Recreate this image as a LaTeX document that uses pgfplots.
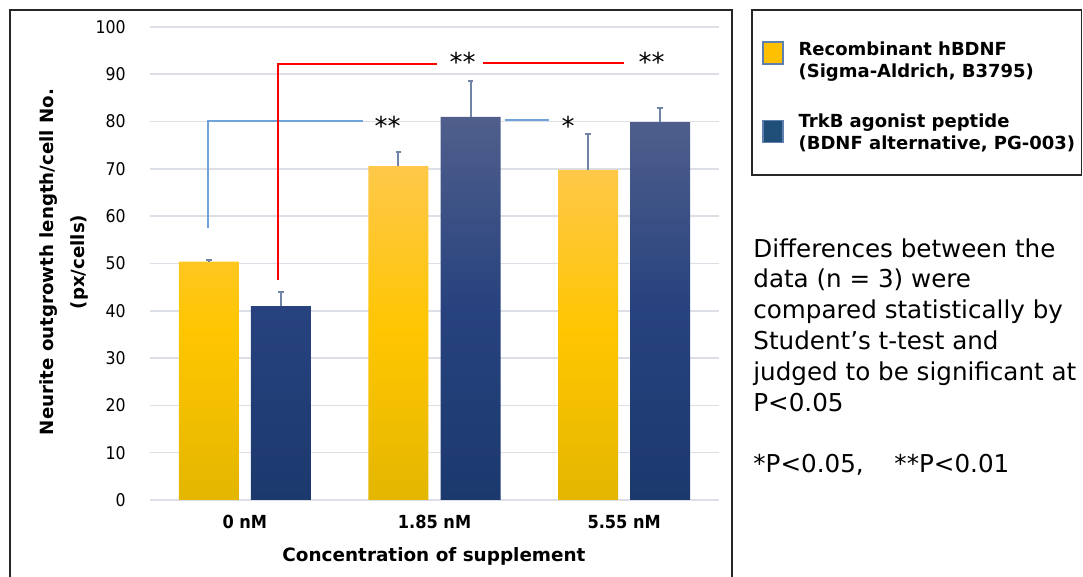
\documentclass[border=0pt]{standalone}
\usepackage{fontspec}
\setmainfont{DejaVu Sans}
\newfontfamily\condfont{DejaVu Sans Condensed}[BoldFont={DejaVu Sans Condensed Bold}]
\usepackage{pgfplots}
\usepackage{pgfplotstable}
\pgfplotsset{compat=1.18}
\definecolor{ytop}{HTML}{FFC84A}
\definecolor{ymid}{HTML}{FFC600}
\definecolor{ybot}{HTML}{E3B600}
\definecolor{btop}{HTML}{505F8C}
\definecolor{bmid}{HTML}{27427E}
\definecolor{bbot}{HTML}{1C396E}
\definecolor{errc}{HTML}{6F84A6}
\definecolor{gridc}{HTML}{DCDFE5}
\definecolor{sigblue}{HTML}{6FA3DA}
\definecolor{legy}{HTML}{FFC000}
\definecolor{legb}{HTML}{1F4E79}
\definecolor{legborder}{HTML}{5E7FB0}
\definecolor{framec}{HTML}{262626}

\pgfplotstableread{
x y e
0 50.4 0.3
1 70.6 3.0
2 69.8 7.6
}\tabA
\pgfplotstableread{
x y e
0 41.0 2.9
1 81.0 7.6
2 79.9 3.0
}\tabB

\begin{document}
\begin{tikzpicture}
\begin{axis}[
  at={(75pt,38.5pt)}, anchor=south west,
  scale only axis, width=284.5pt, height=236.5pt,
  xmin=-0.5, xmax=2.5, ymin=0, ymax=100,
  axis lines=left, axis line style={draw=none},
  major tick length=0pt,
  xtick={0,1,2}, xticklabels={0 nM, 1.85 nM, 5.55 nM},
  ytick={0,10,...,100},
  ymajorgrids, grid style={draw=gridc, line width=0.8pt},
  /pgf/number format/assume math mode=true,
  xticklabel style={font=\condfont\bfseries\fontsize{9}{10}\selectfont, inner sep=0pt, anchor=north, yshift=-7.5pt},
  yticklabel style={font=\condfont\fontsize{8.75}{10}\selectfont, inner sep=0pt, anchor=east, xshift=-12pt},
  legend style={at={(axis description cs:1.0756,0.9705)}, anchor=north west, draw=none, fill=none, inner sep=0pt,
    font=\bfseries\fontsize{9}{11}\selectfont, cells={align=left, anchor=west}, row sep=17pt, column sep=0pt,
    nodes={inner sep=0pt}},
]
\addplot[ybar, bar width=0.316, bar shift=-0.19, draw=none, top color=ytop, bottom color=ybot, middle color=ymid, forget plot] table[x=x, y=y] {\tabA};
\addplot[ybar, bar width=0.316, bar shift=0.19, draw=none, top color=btop, bottom color=bbot, middle color=bmid, forget plot] table[x=x, y=y] {\tabB};
\addplot[forget plot, draw=none, mark=none, error bars/.cd, y dir=plus, y explicit,
  error bar style={draw=errc, line width=1pt},
  error mark options={draw=errc, line width=1pt, mark size=1.4pt, rotate=90}]
  table[x expr=\thisrow{x}-0.19, y=y, y error=e] {\tabA};
\addplot[forget plot, draw=none, mark=none, error bars/.cd, y dir=plus, y explicit,
  error bar style={draw=errc, line width=1pt},
  error mark options={draw=errc, line width=1pt, mark size=1.4pt, rotate=90}]
  table[x expr=\thisrow{x}+0.19, y=y, y error=e] {\tabB};
\addlegendimage{legend image code/.code={\draw[fill=legy, draw=legborder, line width=0.6pt] (0pt,-1.5pt) rectangle (10pt,9.5pt);}}
\addlegendentry{\hspace{7.5pt}Recombinant hBDNF\\\hspace{7.5pt}(Sigma-Aldrich, B3795)}
\addlegendimage{legend image code/.code={\draw[fill=legb, draw=legborder, line width=0.6pt] (0pt,-4.5pt) rectangle (10pt,6.5pt);}}
\addlegendentry{\hspace{7.5pt}TrkB agonist peptide\\\hspace{7.5pt}(BDNF alternative, PG-003)}
\end{axis}
\begin{scope}[x=0.5pt, y=-0.5pt, yshift=288.5pt]
  % frames
  \draw[framec, line width=0.75pt] (10,580) -- (10,10) -- (732,10) -- (732,580);
  \draw[framec, line width=0.75pt] (752,10) rectangle (1081.5,175);
  % significance brackets
  \draw[sigblue, line width=1pt] (207.7,227.7) |- (363.3,121.3);
  \draw[sigblue, line width=1pt] (505,120) -- (549.3,120);
  \draw[red, line width=1pt] (278.3,280) |- (437.3,64);
  \draw[red, line width=1pt] (482.7,62.7) -- (624.3,62.7);
  \node[anchor=base, inner sep=0pt, font=\fontsize{13}{13}\selectfont] at (462.7,72) {**};
  \node[anchor=base, inner sep=0pt, font=\fontsize{13}{13}\selectfont] at (651.7,72) {**};
  \node[anchor=base, inner sep=0pt, font=\fontsize{13}{13}\selectfont] at (387.5,135.5) {**};
  \node[anchor=base, inner sep=0pt, font=\fontsize{13}{13}\selectfont] at (568,135.5) {*};
  % axis titles
  \node[anchor=base, inner sep=0pt, font=\bfseries\fontsize{9.2}{11}\selectfont] at (434,562) {Concentration of supplement};
  \node[rotate=90, align=center, inner sep=0pt, font=\bfseries\fontsize{9.1}{15.5}\selectfont] at (63.5,262) {Neurite outgrowth length/cell No.\\(px/cells)};
  % note text
  \node[anchor=north west, align=left, inner sep=0pt, font=\fontsize{12.3}{15.4}\selectfont] at (753,238)
    {Differences between the\\data (n = 3) were\\compared statistically by\\Student’s t-test and\\judged to be significant at\\P<0.05};
  \node[anchor=north west, inner sep=0pt, font=\fontsize{12.3}{15.3}\selectfont] at (753,454)
    {*P<0.05,\hspace{1.25em}**P<0.01};
  \pgfresetboundingbox
  \path (0,0) rectangle (1083,577);
\end{scope}
\end{tikzpicture}
\end{document}
